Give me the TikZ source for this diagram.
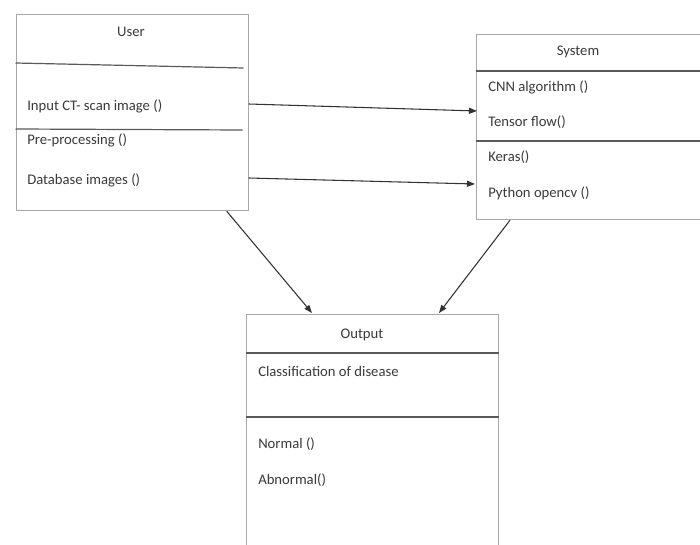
\documentclass[tikz,border=0pt]{standalone}
\usepackage{fontspec}
\setmainfont{Carlito}
\usetikzlibrary{calc,arrows.meta}
\definecolor{boxline}{HTML}{A8A8A8}
\definecolor{divline}{HTML}{5A5A5A}
\definecolor{txt}{HTML}{3A3A3A}
\definecolor{arrcol}{HTML}{333333}
\begin{document}
\begin{tikzpicture}[x=0.75pt,y=-0.75pt,
  classbox/.style={draw=boxline,line width=0.9pt,rectangle,anchor=north west,inner sep=0pt},
  divider/.style={draw=divline,line width=0.9pt},
  lbl/.style={font=\fontsize{11}{13}\selectfont,text=txt,inner sep=0pt,anchor=west},
  ttl/.style={font=\fontsize{11}{13}\selectfont,text=txt,inner sep=0pt},
  arr/.style={draw=arrcol,line width=0.8pt,-{Triangle[length=6pt,width=4.5pt]}}]
\useasboundingbox[fill=white] (0,0) rectangle (700,545);
\clip (0,0) rectangle (700,545);

% class boxes
\node[classbox,minimum width=174pt,minimum height=147pt] (user) at (15.5,14) {};
\node[classbox,minimum width=180pt,minimum height=138.75pt] (system) at (476,34) {};
\node[classbox,minimum width=189pt,minimum height=184.5pt] (output) at (246,314) {};

% compartment dividers
\draw[divider] ($(user.north west)+(0,49)$) -- ($(user.north west)+(228,54)$);
\draw[divider] ($(user.north west)+(0,115)$) -- ($(user.north west)+(227,116)$);
\draw[divider] ($(system.north west)+(0,37)$) -- ($(system.north east)+(0,37)$);
\draw[divider] ($(system.north west)+(0,107)$) -- ($(system.north east)+(0,107)$);
\draw[divider] ($(output.north west)+(0,39)$) -- ($(output.north east)+(0,39)$);
\draw[divider] ($(output.north west)+(0,103)$) -- ($(output.north east)+(0,103)$);

% User
\node[ttl] (usert) at (131,32) {User};
\node[lbl] (u1) at (27,106) {Input CT- scan image ()};
\node[lbl] (u2) at (27,140) {Pre-processing ()};
\node[lbl] (u3) at (27,180) {Database images ()};

% System
\node[ttl] (syst) at (578,52) {System};
\node[lbl] (s1) at (488,87) {CNN algorithm ()};
\node[lbl] (s2) at (488,122) {Tensor flow()};
\node[lbl] (s3) at (488,157) {Keras()};
\node[lbl] (s4) at (488,193) {Python opencv ()};

% Output
\node[ttl] (outt) at (362,335) {Output};
\node[lbl] (o1) at (258,371) {Classification of disease};
\node[lbl] (o2) at (258,444) {Normal ()};
\node[lbl] (o3) at (258,480) {Abnormal()};

% connectors
\draw[arr] ($(user.north east)+(0,90)$) -- ($(system.north west)+(1,77)$);
\draw[arr] ($(user.north east)+(0,164)$) -- ($(system.north west)+(-1,150)$);
\draw[arr] ($(user.south east)+(-22,0)$) -- ($(output.north west)+(66,-1)$);
\draw[arr] ($(system.south west)+(34,0)$) -- ($(output.north west)+(193,-1)$);
\end{tikzpicture}
\end{document}
